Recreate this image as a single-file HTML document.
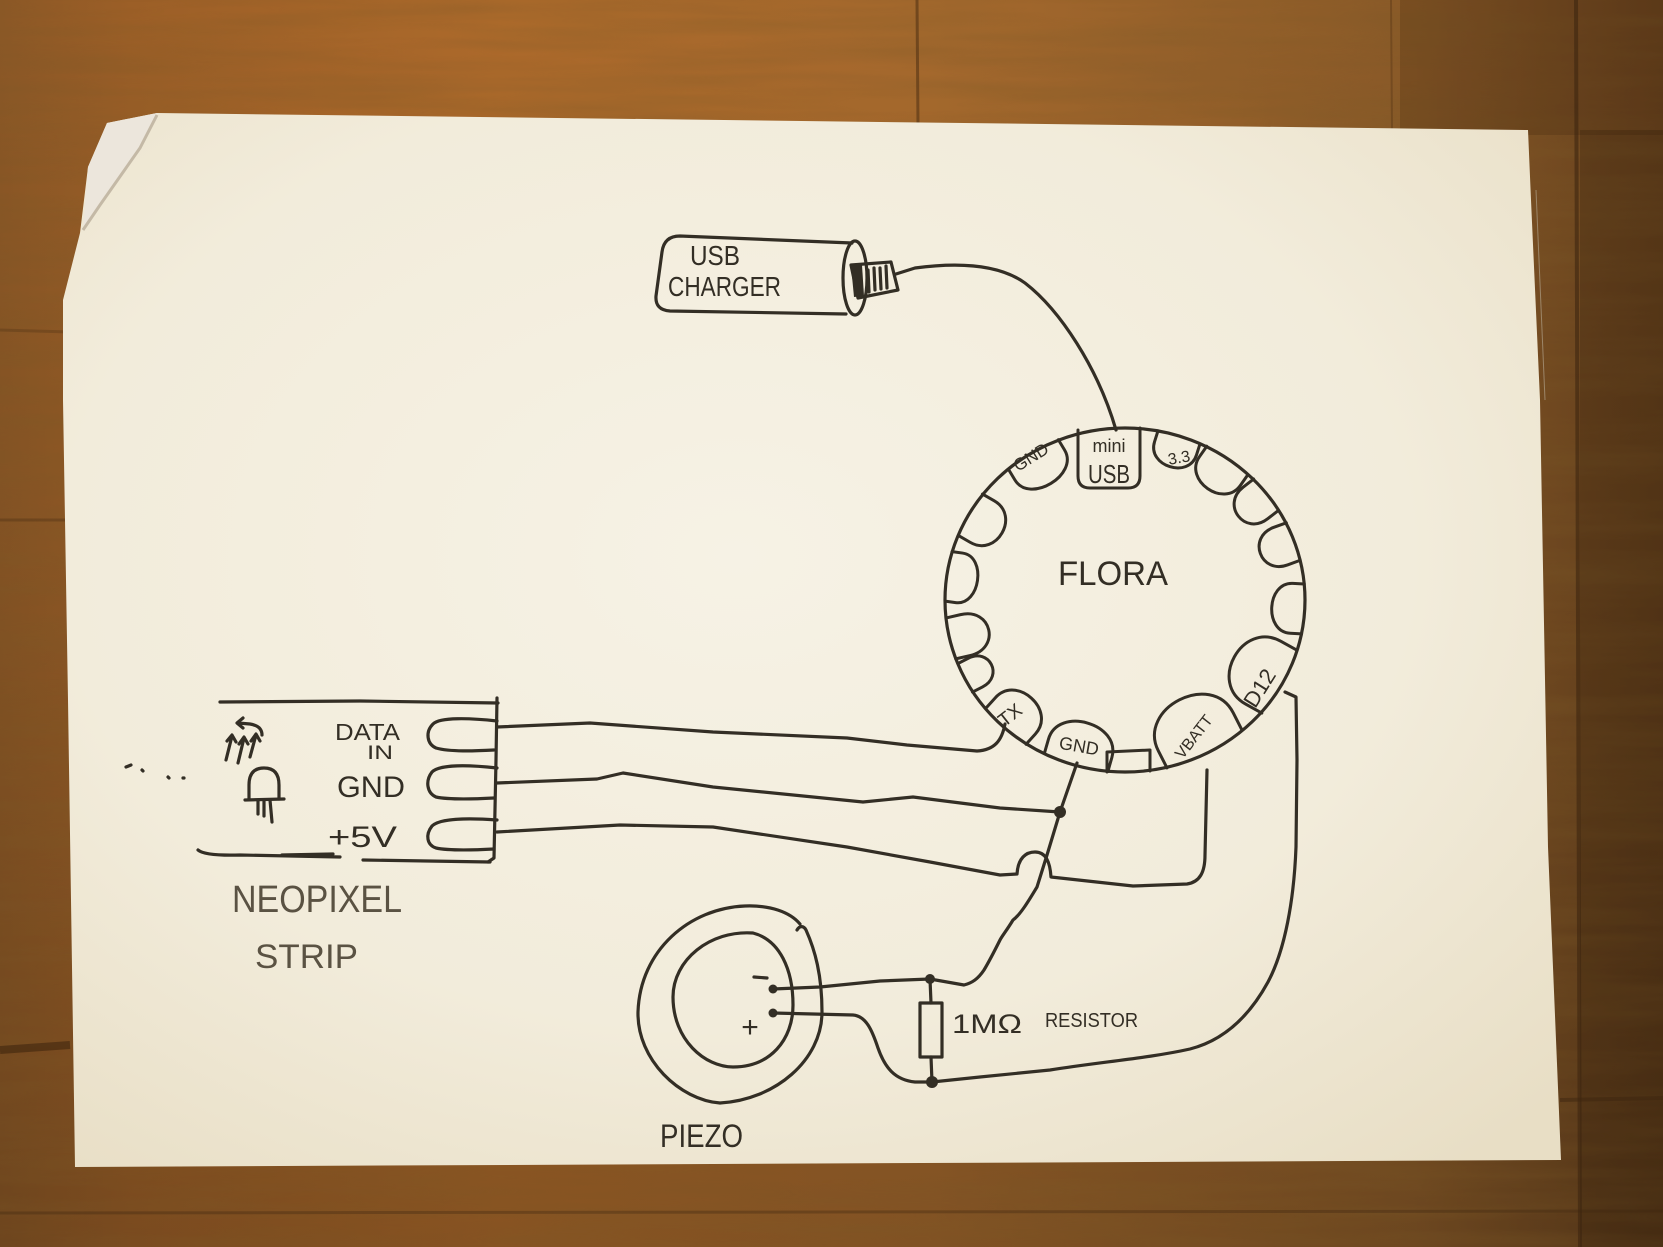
<!DOCTYPE html>
<html>
<head>
<meta charset="utf-8">
<style>
html,body{margin:0;padding:0;background:#8e5826;}
svg{display:block;}
.ink{fill:none;stroke:#332e25;stroke-width:3.2;stroke-linecap:round;stroke-linejoin:round;}
.pad{fill:none;stroke:#332e25;stroke-width:3;stroke-linecap:round;stroke-linejoin:round;}
.t{font-family:"Liberation Sans",sans-serif;fill:#332e25;}
.p{font-family:"Liberation Sans",sans-serif;fill:#5a5243;}
</style>
</head>
<body>
<svg width="1663" height="1247" viewBox="0 0 1663 1247" xmlns="http://www.w3.org/2000/svg">
<defs>
  <linearGradient id="wood" x1="0" y1="0" x2="1" y2="0">
    <stop offset="0" stop-color="#8c5826"/>
    <stop offset="0.08" stop-color="#9c5f27"/>
    <stop offset="0.3" stop-color="#ad6a2b"/>
    <stop offset="0.56" stop-color="#a5692d"/>
    <stop offset="0.85" stop-color="#8a5a28"/>
    <stop offset="1" stop-color="#66411d"/>
  </linearGradient>
  <linearGradient id="woodV" x1="0" y1="0" x2="0" y2="1">
    <stop offset="0" stop-color="#000" stop-opacity="0"/>
    <stop offset="0.5" stop-color="#000" stop-opacity="0.08"/>
    <stop offset="1" stop-color="#000" stop-opacity="0.22"/>
  </linearGradient>
  <radialGradient id="paper" cx="0.45" cy="0.42" r="0.75">
    <stop offset="0" stop-color="#f6f2e5"/>
    <stop offset="0.6" stop-color="#f2ecdb"/>
    <stop offset="1" stop-color="#e8dec5"/>
  </radialGradient>
  <filter id="grain" x="0" y="0" width="100%" height="100%">
    <feTurbulence type="fractalNoise" baseFrequency="0.004 0.06" numOctaves="3" seed="4"/>
    <feColorMatrix type="matrix" values="0 0 0 0 0.2  0 0 0 0 0.1  0 0 0 0 0.02  0 0 0 0.9 -0.25"/>
  </filter>
</defs>

<!-- wood background -->
<rect width="1663" height="1247" fill="url(#wood)"/>
<rect width="1663" height="1247" fill="url(#woodV)"/>
<rect width="1663" height="1247" filter="url(#grain)" opacity="0.55"/>
<rect x="1400" y="0" width="263" height="135" fill="#2a1606" opacity="0.18"/>
<rect x="1580" y="130" width="83" height="1117" fill="#1e1004" opacity="0.22"/>
<!-- plank seams -->
<line x1="917" y1="0" x2="918" y2="125" stroke="#4e2f12" stroke-width="3" opacity="0.55"/>
<line x1="1391" y1="0" x2="1392" y2="130" stroke="#4e2f12" stroke-width="2" opacity="0.35"/>
<line x1="1576" y1="0" x2="1580" y2="1247" stroke="#3e2610" stroke-width="4" opacity="0.6"/>
<line x1="1560" y1="1100" x2="1663" y2="1098" stroke="#3e2610" stroke-width="4" opacity="0.5"/>
<line x1="0" y1="1213" x2="1663" y2="1211" stroke="#3e2610" stroke-width="3" opacity="0.35"/>
<line x1="0" y1="1050" x2="70" y2="1045" stroke="#2e1a08" stroke-width="8" opacity="0.45"/>
<line x1="0" y1="520" x2="70" y2="520" stroke="#3e2610" stroke-width="3" opacity="0.3"/>
<line x1="0" y1="330" x2="70" y2="332" stroke="#3e2610" stroke-width="3" opacity="0.25"/>

<!-- paper -->
<path d="M107,123 L157,113 L1528,130 L1531,200 L1540,400 L1548,847 L1561,1160 L75,1167 L68,700 L63,400 L63,300 L80,233 L88,167 Z" fill="url(#paper)"/>
<path d="M107,123 L157,113 L140,150 L105,200 L83,230 L88,167 Z" fill="#ece6dc"/>
<path d="M157,115 L140,148 L100,205 L83,230" fill="none" stroke="#c4b9a6" stroke-width="3"/>
<line x1="1536" y1="190" x2="1545" y2="400" stroke="#b8ad98" stroke-width="1" opacity="0.6"/>

<!-- ===== USB charger ===== -->
<path class="ink" d="M852,243 L680,236 Q664,236 662,252 L656,296 Q655,310 670,311 L846,314"/>
<ellipse class="ink" cx="855" cy="278" rx="12" ry="37"/>
<path class="ink" d="M851,265 L891,262 L898,290 L858,298 Z" stroke-width="2.5"/>
<path d="M851,266 L862,265 L864,296 L854,297 Z" fill="#332e25"/>
<path class="ink" stroke-width="1.6" d="M868,270 L869,292 M874,268 L875,290 M880,268 L881,289 M886,266 L887,288"/>
<path class="ink" d="M896,274 L915,268 C960,262 1000,265 1025,283 C1060,310 1098,368 1116,430" stroke-width="3.2"/>
<text class="t" x="690" y="265" font-size="28" textLength="50" lengthAdjust="spacingAndGlyphs">USB</text>
<text class="t" x="668" y="296" font-size="28" textLength="113" lengthAdjust="spacingAndGlyphs">CHARGER</text>

<!-- ===== FLORA ===== -->
<ellipse class="ink" cx="1125" cy="600" rx="180" ry="172" stroke-width="3.5"/>
<g class="pad">
  <path transform="translate(964.6,678.1) rotate(153)" d="M-0.7,-16 L-12,-16 C-36,-16 -36,16 -12,16 L-0.7,16"/>
  <path transform="translate(949.7,638.7) rotate(167)" d="M-1.3,-21 L-16,-21 C-48,-21 -48,21 -16,21 L-1.3,21"/>
  <path transform="translate(946.8,576.1) rotate(188)" d="M-1.8,-25 L-12.4,-25 C-37.2,-25 -37.2,25 -12.4,25 L-1.8,25"/>
  <path transform="translate(969.1,514) rotate(210)" d="M-1.6,-24 L-15.2,-24 C-45.6,-24 -45.6,24 -15.2,24 L-1.6,24"/>
  <path transform="translate(1032.3,452.6) rotate(239)" d="M-2.4,-29 L-14.4,-29 C-43.2,-29 -43.2,29 -14.4,29 L-2.4,29"/>
  <path transform="translate(1179.4,436.1) rotate(287.6)" d="M-1.4,-22 L-12.8,-22 C-38.4,-22 -38.4,22 -12.8,22 L-1.4,22"/>
  <path transform="translate(1228.3,459.1) rotate(305)" d="M-1.8,-25 L-14.4,-25 C-43.2,-25 -43.2,25 -14.4,25 L-1.8,25"/>
  <path transform="translate(1266.8,494.1) rotate(322)" d="M-1.1,-20 L-14.4,-20 C-43.2,-20 -43.2,20 -14.4,20 L-1.1,20"/>
  <path transform="translate(1294.2,541.2) rotate(340)" d="M-1.1,-20 L-14.4,-20 C-43.2,-20 -43.2,20 -14.4,20 L-1.1,20"/>
  <path transform="translate(1304.7,609) rotate(3)" d="M-1.8,-25 L-13.2,-25 C-39.6,-25 -39.6,25 -13.2,25 L-1.8,25"/>
  <path transform="translate(1282.5,683.4) rotate(29)" d="M-3.7,-36 L-22,-36 C-66,-36 -66,36 -22,36 L-3.7,36"/>
  <path transform="translate(1206.7,753.3) rotate(63)" d="M-5,-42 L-24,-42 C-72,-42 -72,42 -24,42 L-5,42"/>
  <path transform="translate(1075.3,765.3) rotate(106)" d="M-3.1,-33 L-17.6,-33 C-52.8,-33 -52.8,33 -17.6,33 L-3.1,33"/>
  <path transform="translate(1004.6,727.8) rotate(132)" d="M-2.1,-27 L-16,-27 C-48,-27 -48,27 -16,27 L-2.1,27"/>
  <path d="M1078,430 L1078,476 Q1078,488 1090,488 L1128,488 Q1140,488 1140,476 L1140,428"/>
  <path d="M1107,772 L1107,752 L1150,750 L1150,771"/>
</g>
<text class="t" x="1109" y="452" font-size="18" text-anchor="middle">mini</text>
<text class="t" x="1088" y="483" font-size="26" textLength="42" lengthAdjust="spacingAndGlyphs">USB</text>
<text class="t" font-size="17" text-anchor="middle" transform="translate(1034,462) rotate(-32)">GND</text>
<text class="t" font-size="16" text-anchor="middle" transform="translate(1180,463) rotate(-10)">3.3</text>
<text class="t" x="1058" y="585" font-size="34" textLength="110" lengthAdjust="spacingAndGlyphs">FLORA</text>
<text class="t" font-size="19" text-anchor="middle" transform="translate(1014,720) rotate(-38)">TX</text>
<text class="t" font-size="18" text-anchor="middle" transform="translate(1078,752) rotate(10)">GND</text>
<text class="t" font-size="16" text-anchor="middle" transform="translate(1198,740) rotate(-52)">VBATT</text>
<text class="t" font-size="22" text-anchor="middle" transform="translate(1266,692) rotate(-58)">D12</text>

<!-- ===== NEOPIXEL strip ===== -->
<path class="ink" d="M220,702 L360,701 L498,703"/>
<path class="ink" d="M497,698 L496,760 L494,858 L488,862"/>
<path class="ink" d="M198,850 Q205,856 240,855 L340,857"/>
<path class="ink" d="M282,855 L333,854" stroke-width="5"/>
<path class="ink" d="M363,860 L490,862"/>
<path class="ink" d="M497,721 C470,718 440,717 433,724 C425,732 427,744 436,748 C450,752 475,751 494,750"/>
<path class="ink" d="M497,768 C470,765 440,764 432,772 C425,781 427,793 436,797 C450,800 475,799 494,798"/>
<path class="ink" d="M497,820 C470,818 440,818 432,826 C425,835 427,845 436,848 C450,851 475,850 494,849"/>
<path class="ink" stroke-width="2.5" d="M249,799 L249,785 Q249,768 264,768 Q279,768 279,785 L279,799"/>
<path class="ink" stroke-width="2.5" d="M245,800 L284,799"/>
<path class="ink" stroke-width="1.8" d="M258,800 L258,814 M264,800 L264,816 M270,800 L272,822"/>
<path class="ink" stroke-width="2.3" d="M226,760 L232,736 M227,741 L232,735 L236,742"/>
<path class="ink" stroke-width="2.3" d="M238,763 L244,738 M239,744 L244,737 L248,744"/>
<path class="ink" stroke-width="2.3" d="M250,757 L256,735 M251,741 L256,734 L260,741"/>
<path class="ink" stroke-width="2.3" d="M262,735 Q262,726 250,724 L238,723 M243,718 L237,723 L243,728"/>
<path class="ink" stroke-width="2.5" d="M126,767 L131,765 M142,770 L143,771 M168,777 L169,778 M183,778 L184,778"/>
<text class="t" x="335" y="740" font-size="23" textLength="65" lengthAdjust="spacingAndGlyphs">DATA</text>
<text class="t" x="367" y="759" font-size="19" textLength="26" lengthAdjust="spacingAndGlyphs">IN</text>
<text class="t" x="337" y="797" font-size="30" textLength="68" lengthAdjust="spacingAndGlyphs">GND</text>
<text class="t" x="328" y="847" font-size="30" textLength="69" lengthAdjust="spacingAndGlyphs">+5V</text>
<text class="p" x="232" y="912" font-size="38" textLength="170" lengthAdjust="spacingAndGlyphs">NEOPIXEL</text>
<text class="p" x="255" y="968" font-size="34" textLength="103" lengthAdjust="spacingAndGlyphs">STRIP</text>

<!-- ===== wires ===== -->
<path class="ink" d="M497,727 L590,723 L713,732 L847,738 L907,745 L977,751 C995,750 1002,740 1005,724"/>
<path class="ink" d="M497,783 L597,779 L623,773 L713,787 L863,802 L913,797 L1000,808 L1060,812"/>
<path class="ink" d="M497,832 L620,825 L713,827 L847,847 L930,862 L1000,875 L1017,874 C1018,858 1026,852 1035,852 C1046,852 1050,862 1051,877 L1133,886 L1187,884 C1200,882 1205,872 1205,855 L1207,770"/>
<path class="ink" d="M1077,763 L1060,812 L1047,855 L1037,887 C1028,902 1020,915 1013,920 C1007,930 1002,936 1000,940 C995,950 990,960 984,970 C978,979 972,983 964,985 L930,979"/>
<path class="ink" d="M1285,692 L1296,697 L1297,760 L1296,847 C1294,900 1285,950 1268,982 C1250,1015 1225,1040 1190,1049 C1150,1058 1100,1062 1050,1070 L980,1077 L932,1082"/>
<path class="ink" d="M773,1013 L853,1015 C866,1016 872,1030 878,1048 C885,1068 895,1080 915,1082 L932,1082"/>
<path class="ink" d="M773,989 L820,987 L880,981 L930,979"/>
<circle cx="1060" cy="812" r="6" fill="#332e25"/>
<circle cx="930" cy="979" r="5" fill="#332e25"/>
<circle cx="932" cy="1082" r="6" fill="#332e25"/>

<!-- ===== resistor ===== -->
<rect class="ink" x="920" y="1003" width="22" height="54"/>
<path class="ink" d="M930,979 L931,1003 M931,1057 L932,1082"/>
<text class="t" x="952" y="1033" font-size="27" textLength="70" lengthAdjust="spacingAndGlyphs">1MΩ</text>
<text class="t" x="1045" y="1027" font-size="20" textLength="93" lengthAdjust="spacingAndGlyphs">RESISTOR</text>

<!-- ===== piezo ===== -->
<path class="ink" d="M800,924 C790,912 770,905 745,906 C690,908 640,950 638,1012 C637,1060 680,1100 720,1103 C775,1100 822,1060 822,1012 C822,975 815,950 806,930 C804,926 800,925 797,930"/>
<path class="ink" d="M753,933 C710,930 673,960 673,997 C673,1040 705,1067 733,1067 C770,1067 793,1040 793,1005 C793,970 780,940 753,933 Z"/>
<circle cx="773" cy="989" r="4.5" fill="#332e25"/>
<circle cx="773" cy="1013" r="4.5" fill="#332e25"/>
<path class="ink" stroke-width="4" d="M754,977 L767,978"/>
<text class="t" x="750" y="1037" font-size="30" text-anchor="middle">+</text>
<text class="t" x="660" y="1147" font-size="32" textLength="83" lengthAdjust="spacingAndGlyphs">PIEZO</text>
</svg>
</body>
</html>
